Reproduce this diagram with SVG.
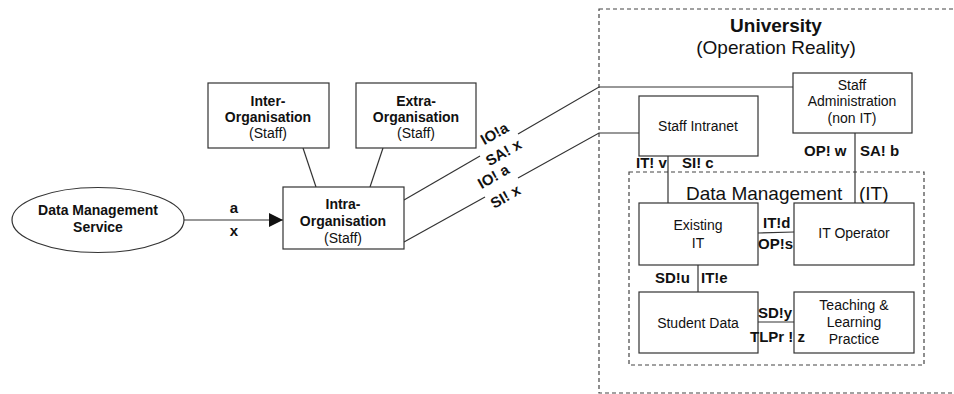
<svg xmlns="http://www.w3.org/2000/svg" width="954" height="394" viewBox="0 0 954 394">
<style>
  .box{fill:#fff;stroke:#333;stroke-width:1.2}
  .dash{fill:none;stroke:#444;stroke-width:1.2;stroke-dasharray:4 3}
  .ln{fill:none;stroke:#333;stroke-width:1.2}
  text{font-family:"Liberation Sans",Arial,sans-serif;fill:#111}
  .t{font-size:14px;text-anchor:middle}
  .tb{font-size:14px;font-weight:bold;text-anchor:middle}
  .lb{font-size:15px;font-weight:bold}
  .big{font-size:19px;text-anchor:middle}
</style>
<defs>
  <marker id="arr" markerWidth="14" markerHeight="14" refX="14" refY="7" orient="auto" markerUnits="userSpaceOnUse">
    <path d="M0,0 L14,7 L0,14 Z" fill="#111"/>
  </marker>
</defs>
<rect width="954" height="394" fill="#fff"/>

<g id="university">
  <rect class="dash" x="599" y="9" width="380" height="384"/>
  <text class="big" x="776" y="32" font-weight="bold">University</text>
  <text class="big" x="776" y="54">(Operation Reality)</text>
</g>
<g id="data-management">
  <rect class="dash" x="629" y="172" width="295" height="193"/>
  <text x="686" y="200" font-size="19">Data Management</text>
  <text x="859" y="200" font-size="19">(IT)</text>
</g>

<g id="connectors">
  <line class="ln" x1="184" y1="220" x2="283" y2="220" marker-end="url(#arr)"/>
  <line class="ln" x1="303" y1="148" x2="316" y2="187"/>
  <line class="ln" x1="383" y1="148" x2="370" y2="187"/>
  <polyline class="ln" points="404,200 480,156"/>
  <polyline class="ln" points="518,134 599,87 793,87"/>
  <polyline class="ln" points="404,242 485,197"/>
  <polyline class="ln" points="518,178 599,133 639,133"/>
  <line class="ln" x1="668" y1="156" x2="668" y2="203"/>
  <line class="ln" x1="855" y1="133" x2="855" y2="203"/>
  <line class="ln" x1="758" y1="233" x2="794" y2="232"/>
  <line class="ln" x1="698" y1="265" x2="698" y2="292"/>
  <line class="ln" x1="758" y1="322" x2="794" y2="322"/>
</g>

<g id="dms">
  <ellipse cx="98" cy="220" rx="86" ry="32.5" fill="#fff" stroke="#333" stroke-width="1.2"/>
  <text class="tb" x="98" y="215">Data Management</text>
  <text class="tb" x="98" y="232">Service</text>
</g>
<g id="inter-org">
  <rect class="box" x="208" y="83" width="121" height="65"/>
  <text class="tb" x="268" y="106">Inter-</text>
  <text class="tb" x="268" y="122">Organisation</text>
  <text class="t" x="268" y="138">(Staff)</text>
</g>
<g id="extra-org">
  <rect class="box" x="356" y="83" width="120" height="65"/>
  <text class="tb" x="416" y="106">Extra-</text>
  <text class="tb" x="416" y="122">Organisation</text>
  <text class="t" x="416" y="138">(Staff)</text>
</g>
<g id="intra-org">
  <rect class="box" x="283" y="187" width="121" height="62"/>
  <text class="tb" x="343" y="209">Intra-</text>
  <text class="tb" x="343" y="226">Organisation</text>
  <text class="t" x="343" y="243">(Staff)</text>
</g>
<g id="staff-intranet">
  <rect class="box" x="639" y="96" width="119" height="60"/>
  <text class="t" x="698" y="131">Staff Intranet</text>
</g>
<g id="staff-admin">
  <rect class="box" x="793" y="73" width="119" height="60"/>
  <text class="t" x="852" y="90">Staff</text>
  <text class="t" x="852" y="106">Administration</text>
  <text class="t" x="852" y="123">(non IT)</text>
</g>
<g id="existing-it">
  <rect class="box" x="639" y="203" width="119" height="62"/>
  <text class="t" x="698" y="230">Existing</text>
  <text class="t" x="698" y="248">IT</text>
</g>
<g id="it-operator">
  <rect class="box" x="794" y="203" width="120" height="62"/>
  <text class="t" x="854" y="238">IT Operator</text>
</g>
<g id="student-data">
  <rect class="box" x="639" y="292" width="119" height="61"/>
  <text class="t" x="698" y="328">Student Data</text>
</g>
<g id="teaching">
  <rect class="box" x="794" y="292" width="120" height="61"/>
  <text class="t" x="854" y="310">Teaching &amp;</text>
  <text class="t" x="854" y="327">Learning</text>
  <text class="t" x="854" y="344">Practice</text>
</g>

<g id="labels">
  <text class="lb" x="234" y="213" text-anchor="middle">a</text>
  <text class="lb" x="234" y="236" text-anchor="middle">x</text>
  <text class="lb" text-anchor="middle" transform="translate(497,138) rotate(-30)">IO!a</text>
  <text class="lb" text-anchor="middle" transform="translate(506,157) rotate(-30)">SA! x</text>
  <text class="lb" text-anchor="middle" transform="translate(496,181) rotate(-30)">IO! a</text>
  <text class="lb" text-anchor="middle" transform="translate(508,201) rotate(-30)">SI! x</text>
  <text class="lb" x="636" y="168">IT! v</text>
  <text class="lb" x="682" y="168">SI! c</text>
  <text class="lb" x="804" y="156">OP! w</text>
  <text class="lb" x="860" y="156">SA! b</text>
  <text class="lb" x="763" y="228">IT!d</text>
  <text class="lb" x="758" y="249">OP!s</text>
  <text class="lb" x="655" y="283">SD!u</text>
  <text class="lb" x="701" y="283">IT!e</text>
  <text class="lb" x="758" y="318">SD!y</text>
  <text class="lb" x="750" y="342">TLPr ! z</text>
</g>
</svg>
